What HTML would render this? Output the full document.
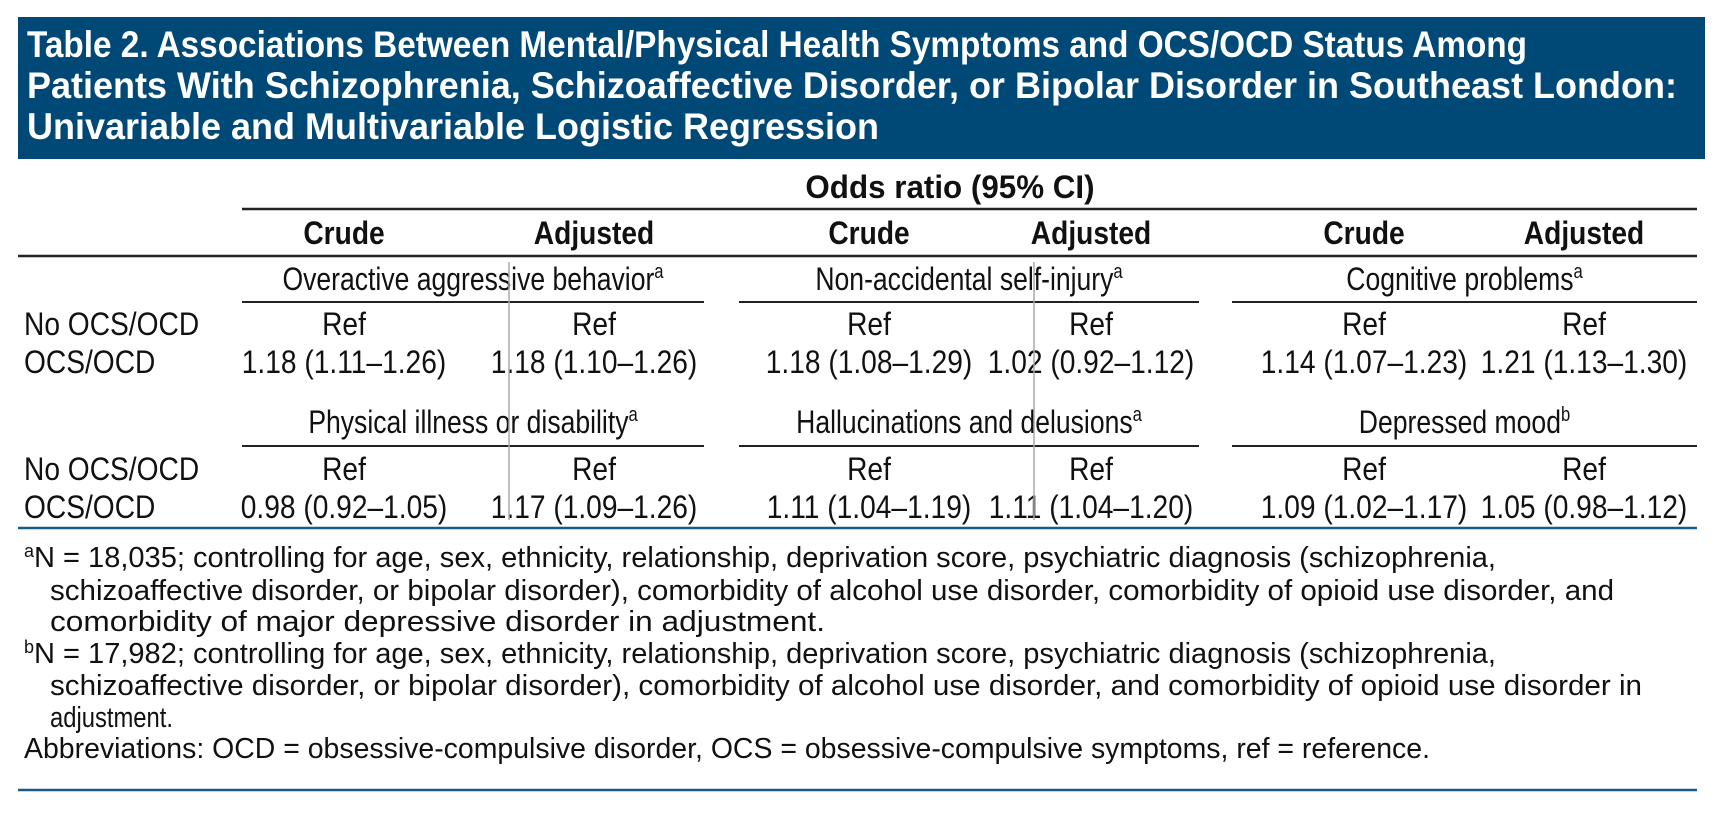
<!DOCTYPE html>
<html><head><meta charset="utf-8">
<style>
html,body{margin:0;padding:0;background:#fff;}
svg{display:block;font-family:"Liberation Sans",sans-serif;}
</style></head>
<body>
<svg id="tbl" width="1725" height="820" viewBox="0 0 1725 820" xmlns="http://www.w3.org/2000/svg">
  <rect x="18" y="17" width="1687" height="142" fill="#004876"/>
  <g fill="#fff" font-weight="bold" font-size="37">
    <text x="27" y="57" textLength="1500" lengthAdjust="spacingAndGlyphs">Table 2. Associations Between Mental/Physical Health Symptoms and OCS/OCD Status Among</text>
    <text x="27" y="98" textLength="1650" lengthAdjust="spacingAndGlyphs">Patients With Schizophrenia, Schizoaffective Disorder, or Bipolar Disorder in Southeast London:</text>
    <text x="27" y="139" textLength="852" lengthAdjust="spacingAndGlyphs">Univariable and Multivariable Logistic Regression</text>
  </g>
  <g id="body"></g>
  <g font-size="29" fill="#111">
    <text x="24" y="567" textLength="1472" lengthAdjust="spacingAndGlyphs"><tspan font-size="18" dy="-10">a</tspan><tspan dy="10">N = 18,035; controlling for age, sex, ethnicity, relationship, deprivation score, psychiatric diagnosis (schizophrenia,</tspan></text>
    <text x="50" y="600" textLength="1564" lengthAdjust="spacingAndGlyphs">schizoaffective disorder, or bipolar disorder), comorbidity of alcohol use disorder, comorbidity of opioid use disorder, and</text>
    <text x="50" y="631" textLength="775" lengthAdjust="spacingAndGlyphs">comorbidity of major depressive disorder in adjustment.</text>
    <text x="24" y="663" textLength="1472" lengthAdjust="spacingAndGlyphs"><tspan font-size="18" dy="-10">b</tspan><tspan dy="10">N = 17,982; controlling for age, sex, ethnicity, relationship, deprivation score, psychiatric diagnosis (schizophrenia,</tspan></text>
    <text x="50" y="695" textLength="1592" lengthAdjust="spacingAndGlyphs">schizoaffective disorder, or bipolar disorder), comorbidity of alcohol use disorder, and comorbidity of opioid use disorder in</text>
    <text x="50" y="727" textLength="123" lengthAdjust="spacingAndGlyphs">adjustment.</text>
    <text x="24" y="758" textLength="1406" lengthAdjust="spacingAndGlyphs">Abbreviations: OCD = obsessive-compulsive disorder, OCS = obsessive-compulsive symptoms, ref = reference.</text>
  </g>
  <line x1="18" y1="790" x2="1697" y2="790" stroke="#1a5a86" stroke-width="2.5"/>
</svg>
<script>
const groupTitles = ["Overactive aggressive behavior","Non-accidental self-injury","Cognitive problems","Physical illness or disability","Hallucinations and delusions","Depressed mood"];
const groupNotes = ["a","a","a","a","a","b"];
const rowLabels = ["No OCS/OCD","OCS/OCD"];
const crudeValues = ["1.18 (1.11–1.26)","1.18 (1.08–1.29)","1.14 (1.07–1.23)","0.98 (0.92–1.05)","1.11 (1.04–1.19)","1.09 (1.02–1.17)"];
const adjustedValues = ["1.18 (1.10–1.26)","1.02 (0.92–1.12)","1.21 (1.13–1.30)","1.17 (1.09–1.26)","1.11 (1.04–1.20)","1.05 (0.98–1.12)"];
const colHeaders = ["Crude","Adjusted"];

const NS="http://www.w3.org/2000/svg";
const body=document.getElementById('body');
const SX=0.88;
function txt(s,x,y,opts){
  const t=document.createElementNS(NS,'text');
  t.setAttribute('x',0);t.setAttribute('y',0);
  t.setAttribute('transform',`translate(${x},${y}) scale(${opts.sx||SX},1)`);
  t.setAttribute('font-size',opts.size||32);
  t.setAttribute('fill','#111');
  t.setAttribute('text-anchor',opts.anchor||'middle');
  if(opts.bold) t.setAttribute('font-weight','bold');
  t.textContent=s;
  if(opts.sup){const sp=document.createElementNS(NS,'tspan');sp.setAttribute('font-size','20');sp.setAttribute('dy','-12');sp.textContent=opts.sup;t.appendChild(sp);}
  body.appendChild(t);return t;
}
function line(x1,y1,x2,y2,c,w){
  const l=document.createElementNS(NS,'line');
  l.setAttribute('x1',x1);l.setAttribute('y1',y1);l.setAttribute('x2',x2);l.setAttribute('y2',y2);
  l.setAttribute('stroke',c);l.setAttribute('stroke-width',w);
  body.appendChild(l);return l;
}
const groupSpans=[[242,704],[739,1199],[1232,1697]];
const colCenters=[[344,594],[869,1091],[1364,1584]];

let h=txt("Odds ratio (95% CI)",950,198,{bold:true,sx:0.98});


let l=line(242,209,1697,209,'#222',2.5);


for(let g=0;g<3;g++){for(let c=0;c<2;c++){
  const t=txt(colHeaders[c],colCenters[g][c],244,{bold:true});
  
  
}}
l=line(18,256,1697,256,'#222',2.5);



const blockY=[[290,302,335,373],[433,446,480,518]];
for(let i=0;i<groupTitles.length;i++){
  const b=Math.floor(i/3), g=i%3, Y=blockY[b];
  const [a,z]=groupSpans[g];
  const t=txt(groupTitles[i],(a+z)/2,Y[0],{sup:groupNotes[i],sx:0.83});
  
  
  const gl=line(a,Y[1],z,Y[1],'#222',2);
  
  
  const r1=txt("Ref",colCenters[g][0],Y[2],{});
  
  
  const r2=txt("Ref",colCenters[g][1],Y[2],{});
  
  
  const v1=txt(crudeValues[i],colCenters[g][0],Y[3],{});
  
  
  const v2=txt(adjustedValues[i],colCenters[g][1],Y[3],{});
  
  
}
for(let b=0;b<2;b++){for(let r=0;r<2;r++){
  const t=txt(rowLabels[r],24,blockY[b][2+r],{anchor:'start'});
  
  
}}
l=line(18,528,1697,528,'#1a5a86',2.5);


l=line(509,262,509,520,'#aaa',1.5);


l=line(1034,262,1034,520,'#aaa',1.5);


</script>
</body></html>
